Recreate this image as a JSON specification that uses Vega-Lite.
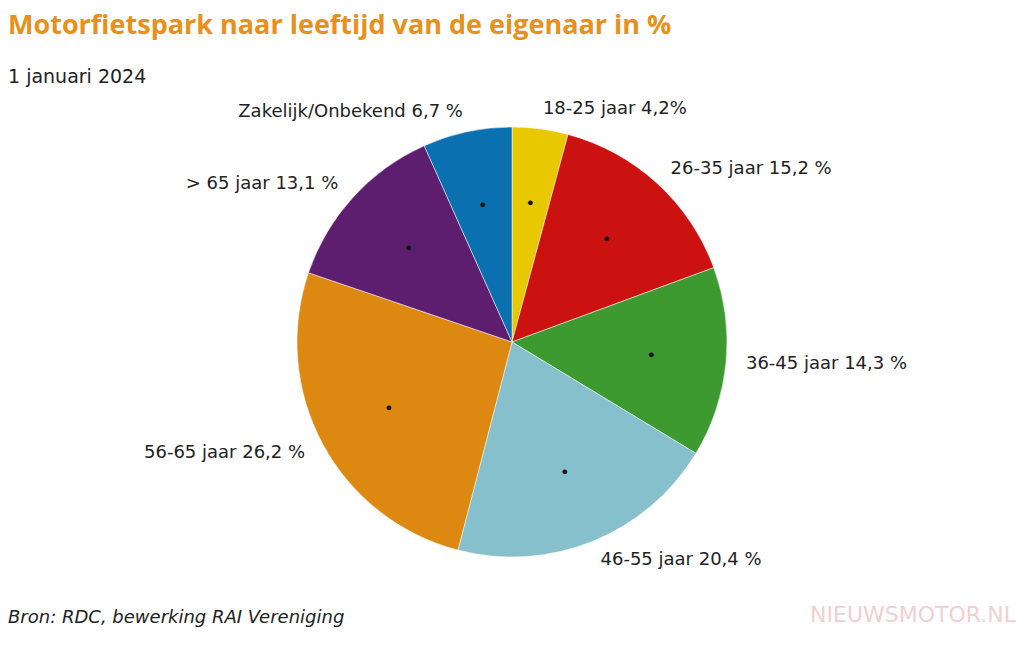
{
  "$schema": "https://vega.github.io/schema/vega-lite/v6.json",
  "width": 1008,
  "height": 500,
  "padding": {"left": 8, "right": 8, "top": 12, "bottom": 40},
  "background": "white",
  "title": {
    "text": "Motorfietspark naar leeftijd van de eigenaar in %",
    "subtitle": "1 januari 2024",
    "anchor": "start",
    "font": "Open Sans",
    "fontSize": 27,
    "fontWeight": "bold",
    "color": "#e8901a",
    "subtitleFont": "DejaVu Sans",
    "subtitleFontSize": 19,
    "subtitleColor": "#222",
    "subtitlePadding": 28
  },
  "data": {
    "values": [
      {"groep": "18-25 jaar", "pct": 4.2, "label": "18-25 jaar 4,2%", "volg": 1},
      {"groep": "26-35 jaar", "pct": 15.2, "label": "26-35 jaar 15,2 %", "volg": 2},
      {"groep": "36-45 jaar", "pct": 14.3, "label": "36-45 jaar 14,3 %", "volg": 3},
      {"groep": "46-55 jaar", "pct": 20.4, "label": "46-55 jaar 20,4 %", "volg": 4},
      {"groep": "56-65 jaar", "pct": 26.2, "label": "56-65 jaar 26,2 %", "volg": 5},
      {"groep": "> 65 jaar", "pct": 13.1, "label": "> 65 jaar 13,1 %", "volg": 6},
      {"groep": "Zakelijk/Onbekend", "pct": 6.7, "label": "Zakelijk/Onbekend 6,7 %", "volg": 7}
    ]
  },
  "encoding": {
    "theta": {"field": "pct", "type": "quantitative", "stack": true},
    "order": {"field": "volg", "type": "quantitative"},
    "color": {
      "field": "groep",
      "type": "nominal",
      "legend": null,
      "scale": {
        "domain": ["18-25 jaar", "26-35 jaar", "36-45 jaar", "46-55 jaar", "56-65 jaar", "> 65 jaar", "Zakelijk/Onbekend"],
        "range": ["#e8c800", "#cc1111", "#3c9a30", "#86c0cc", "#dd8811", "#5e1e70", "#0a70b0"]
      }
    }
  },
  "layer": [
    {"mark": {"type": "arc", "outerRadius": 215, "stroke": "white", "strokeWidth": 0.5}},
    {"mark": {"type": "text", "text": "●", "radius": 140, "fontSize": 11}, "encoding": {"color": {"value": "#111"}}},
    {"mark": {"type": "text", "radius": 235, "align": "left", "font": "DejaVu Sans", "fontSize": 18},
     "encoding": {"text": {"condition": {"test": "datum.volg <= 4", "field": "label"}, "value": ""}, "color": {"value": "#222"}}},
    {"mark": {"type": "text", "radius": 235, "align": "right", "font": "DejaVu Sans", "fontSize": 18},
     "encoding": {"text": {"condition": {"test": "datum.volg > 4", "field": "label"}, "value": ""}, "color": {"value": "#222"}}},
    {"mark": {"type": "text", "align": "left", "baseline": "bottom", "font": "DejaVu Sans", "fontSize": 18, "fontStyle": "italic"},
     "data": {"values": [{"t": "Bron: RDC, bewerking RAI Vereniging"}]},
     "encoding": {"text": {"field": "t"}, "x": {"value": 0}, "y": {"value": 535}, "theta": null, "order": null, "color": {"value": "#222"}}},
    {"mark": {"type": "text", "align": "right", "baseline": "bottom", "font": "DejaVu Sans", "fontSize": 22},
     "data": {"values": [{"t": "NIEUWSMOTOR.NL"}]},
     "encoding": {"text": {"field": "t"}, "x": {"value": 1008}, "y": {"value": 535}, "theta": null, "order": null, "color": {"value": "#f0d0d0"}}}
  ],
  "config": {"view": {"stroke": null}}
}
